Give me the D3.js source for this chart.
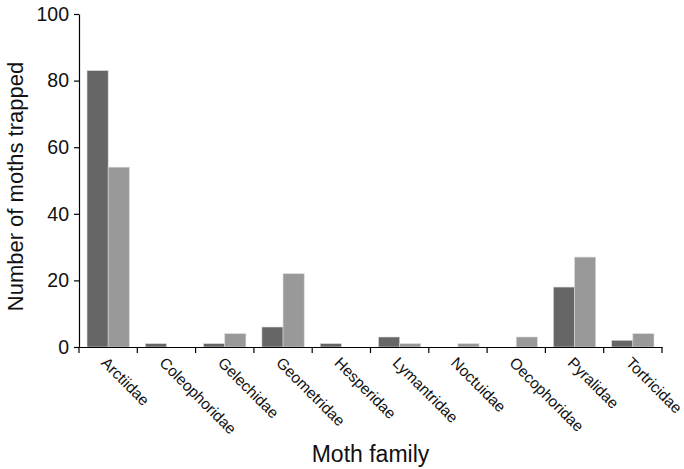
<!DOCTYPE html>
<html lang="en">
<head>
  <meta charset="UTF-8">
  <title>Moths trapped by family</title>
  <script src="https://d3js.org/d3.v7.min.js"></script>
  <style>
    body { margin: 0; background: #fff; }
    svg text { font-family: "Liberation Sans", Arial, sans-serif; fill: #111; }
    .axis path, .axis line { stroke: #000; stroke-width: 1.2; }
  </style>
</head>
<body>
  <script>
    // data
    const families = ['Arctiidae', 'Coleophoridae', 'Gelechidae', 'Geometridae', 'Hesperidae',
                      'Lymantridae', 'Noctuidae', 'Oecophoridae', 'Pyralidae', 'Tortricidae'];
    const seriesDark = [83, 1, 1, 6, 1, 3, 0, 0, 18, 2];
    const seriesLight = [54, 0, 4, 22, 0, 1, 1, 3, 27, 4];
    const yTicks = [0, 20, 40, 60, 80, 100];

    const W = 684, H = 469;
    const margin = {top: 14, right: 22, bottom: 122, left: 79};
    const width = W - margin.left - margin.right;
    const height = H - margin.top - margin.bottom;

    const x = d3.scaleBand().domain(families).range([0, width]).paddingInner(0).paddingOuter(0);
    const inner = d3.scaleBand().domain(['dark', 'light']).range([0, x.bandwidth()]).paddingOuter(0.38).paddingInner(0);
    const y = d3.scaleLinear().domain([0, 100]).range([height, 0]);
    const colors = {dark: '#666666', light: '#999999'};

    const svg = d3.select('body').append('svg')
      .attr('width', W).attr('height', H);
    const g = svg.append('g').attr('transform', `translate(${margin.left},${margin.top})`);

    const rows = families.map((f, i) => ({family: f, dark: seriesDark[i], light: seriesLight[i]}));

    // bars
    const grp = g.selectAll('.fam').data(rows).enter().append('g')
      .attr('transform', d => `translate(${x(d.family)},0)`);
    grp.selectAll('rect')
      .data(d => ['dark', 'light'].map(k => ({key: k, value: d[k]})).filter(v => v.value > 0))
      .enter().append('rect')
      .attr('x', d => inner(d.key))
      .attr('width', inner.bandwidth())
      .attr('y', d => y(d.value))
      .attr('height', d => y(0) - y(d.value))
      .attr('fill', d => colors[d.key])
      .attr('stroke', '#d8d8d8')
      .attr('stroke-width', 0.6);

    // y axis
    const ya = g.append('g').attr('class', 'axis')
      .call(d3.axisLeft(y).tickValues(yTicks).tickSize(5).tickSizeOuter(0).tickPadding(5));
    ya.selectAll('text').style('font-size', '19.5px');

    // x axis with ticks on band edges
    const xa = g.append('g').attr('class', 'axis')
      .attr('transform', `translate(0,${height})`)
      .call(d3.axisBottom(x).tickSize(0).tickFormat(''));
    xa.selectAll('.edge').data(families.concat(['end'])).enter().append('line')
      .attr('class', 'edge')
      .attr('x1', (d, i) => i < families.length ? x(d) : width)
      .attr('x2', (d, i) => i < families.length ? x(d) : width)
      .attr('y1', 0).attr('y2', 6);

    // rotated category labels
    g.selectAll('.cat').data(families).enter().append('text')
      .attr('class', 'cat')
      .attr('transform', d => `translate(${x(d) + x.bandwidth() / 2 - 4},${height + 13}) rotate(45)`)
      .attr('text-anchor', 'start')
      .attr('dy', '0.35em')
      .style('font-size', '15.5px')
      .text(d => d);

    // axis titles
    svg.append('text')
      .attr('transform', `translate(23,${margin.top + height / 2 + 6}) rotate(-90)`)
      .attr('text-anchor', 'middle')
      .style('font-size', '22px')
      .text('Number of moths trapped');

    svg.append('text')
      .attr('x', margin.left + width / 2)
      .attr('y', 462)
      .attr('text-anchor', 'middle')
      .style('font-size', '23px')
      .text('Moth family');
  </script>
</body>
</html>
